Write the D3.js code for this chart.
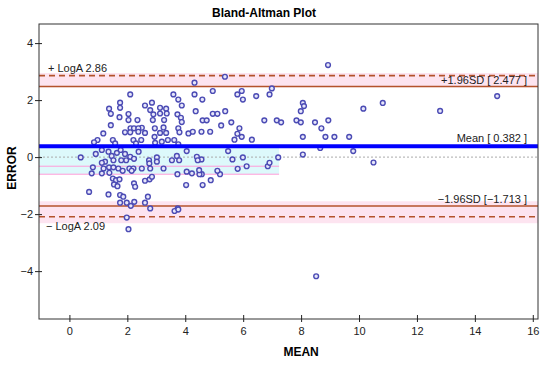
<!DOCTYPE html>
<html>
<head>
<meta charset="utf-8">
<title>Bland-Altman Plot</title>
<script src="https://cdn.jsdelivr.net/npm/d3@7"></script>
<style>
  html, body { margin: 0; padding: 0; background: #fff; }
  svg { display: block; font-family: "Liberation Sans", Arial, sans-serif; }
  .tick text { font-size: 11px; fill: #222; }
</style>
</head>
<body>
<script>
// mean of the two methods (x) and their difference (y)
var meanVals = [
  8.93, 5.37, 4.32, 4.95, 4.59, 5.8, 5.95, 5.99, 6.45, 6.91, 6.99, 8.06, 8.1, 7.99, 10.15, 10.82, 12.8, 14.77,
  4.95, 5.11, 5.38, 4.6, 4.74, 4.56, 4.86, 5.24, 5.59, 5.87, 5.8, 5.95, 5.7, 6.73, 7.16, 7.31, 7.84, 7.99,
  8.48, 8.94, 8.7, 8.06, 8.84, 9.15, 9.66, 8.66, 9.8, 10.5, 8.06, 5.48, 5.63, 5.99, 7.21, 6.3, 5.81, 6.12,
  6.85, 6.91, 4.56, 4.57, 5.2, 4.88, 4.6, 8.52, 5.11, 4.49,
  2.1, 3.59, 4.32, 1.75, 1.75, 1.37, 2.61, 2.85, 3.13, 3.34, 3.76, 3.88, 4.36, 1.43, 2.04, 1.73, 2.79, 2.9,
  3.13, 3.36, 2.88, 3.27, 3.73, 3.85, 3.88, 2.04, 2.35, 1.43, 2.5, 2.11, 2.23, 2.38, 1.92, 2.1, 2.38, 2.61,
  2.95, 3.25, 3.13, 3.34, 3.76, 3.8, 4.11, 4.26, 1.17, 0.97, 0.85, 1.5, 1.58, 2.21, 2.48, 2.94, 2.96, 3.19,
  3.4, 3.62, 2.3, 3.76, 1.12, 0.91, 0.39, 1.35, 1.46, 1.64, 1.77, 1.92, 2.1, 2.23, 2.39, 1.96, 1.79, 1.52,
  1.23, 1.12, 2.75, 3.02, 2.76, 3.02, 3.54, 3.71, 3.79, 4.05, 4.4, 4.43, 0.81, 1.18, 1.37, 1.52, 1.69, 2.07,
  2.21, 2.5, 2.79, 3.25, 0.77, 1.12, 1.38, 1.84, 2.15, 3.73, 4.05, 4.23, 4.48, 1.5, 1.61, 1.73, 1.54, 1.66,
  2.23, 2.27, 2.61, 2.77, 2.85, 4.03, 0.68, 1.35, 1.75, 1.86, 2.71, 2.24, 1.75, 1.98, 2.12, 2.61, 2.79, 3.74,
  1.98, 2.04, 3.63, 3.76
];
var diffVals = [
  3.23, 2.82, 2.61, 2.32, 2.02, 2.2, 2.32, 2.02, 2.14, 2.2, 2.41, 1.9, 1.79, 1.61, 1.7, 1.9, 1.62, 2.14,
  1.52, 1.52, 1.61, 1.29, 1.29, 0.89, 0.89, 1.11, 1.22, 1.01, 0.82, 0.71, 0.61, 1.29, 1.29, 1.22, 1.29, 1.22,
  1.22, 1.29, 1.01, 0.71, 0.71, 0.71, 0.71, 0.32, 0.21, -0.19, 0.09, 0.21, -0.08, -0.01, -0.01, 0.61, -0.41, -0.32,
  -0.32, -0.2, -0.08, -0.6, -0.6, -0.81, -0.98, -4.18, -0.48, -0.6,
  2.2, 2.2, 2.2, 1.91, 1.73, 1.7, 1.81, 1.91, 1.73, 1.7, 2.02, 1.81, 1.61, 1.52, 1.51, 1.4, 1.65, 1.5,
  1.53, 1.53, 1.3, 1.3, 1.5, 1.38, 1.23, 1.3, 1.3, 1.12, 1.03, 1.01, 1.01, 1.01, 0.87, 0.87, 0.89, 0.85,
  1.01, 1.04, 0.85, 0.85, 1.01, 0.87, 0.83, 0.89, 0.83, 0.6, 0.52, 0.6, 0.48, 0.6, 0.6, 0.71, 0.5, 0.54,
  0.6, 0.6, 0.48, 0.45, 0.25, 0.11, -0.01, 0.19, 0.04, 0.15, 0.25, 0.11, 0.01, -0.06, 0.19, -0.11, -0.11, -0.11,
  -0.16, -0.2, -0.11, -0.01, -0.22, -0.16, -0.11, 0.04, -0.11, 0.21, 0.01, -0.11, -0.36, -0.4, -0.36, -0.36, -0.4, -0.4,
  -0.4, -0.4, -0.4, -0.4, -0.57, -0.57, -0.55, -0.48, -0.48, -0.6, -0.51, -0.57, -0.46, -0.75, -0.81, -0.78, -0.96, -1.02,
  -0.92, -1.04, -0.83, -0.78, -0.69, -0.98, -1.22, -1.31, -1.33, -1.39, -1.39, -1.57, -1.6, -1.6, -1.71, -1.6, -1.8, -1.8,
  -2.12, -2.53, -1.89, -1.84
];

var xTicks = [0, 2, 4, 6, 8, 10, 12, 14, 16];
var yTicks = [-4, -2, 0, 2, 4];

var meanDiff = 0.382;
var sdLines = [2.477, -1.713];
var sdLabels = ["+1.96SD [ 2.477 ]", "\u22121.96SD [\u22121.713 ]"];
var logaLines = [2.86, -2.09];
var logaLabels = ["+ LogA 2.86", "\u2212 LogA 2.09"];

var W = 550, H = 365;
var pLeft = 39, pRight = 538, pTop = 24, pBottom = 319;

var svg = d3.select("body").append("svg")
  .attr("width", W)
  .attr("height", H);

var x = d3.scaleLinear().domain([-1.05, 16.18]).range([pLeft, pRight]);
var y = d3.scaleLinear().domain([-5.68, 4.67]).range([pBottom, pTop]);

// pink bands round the limits
svg.append("rect")
  .attr("x", pLeft).attr("width", pRight - pLeft)
  .attr("y", y(2.95)).attr("height", y(2.45) - y(2.95))
  .attr("fill", "#fde4f0");
svg.append("rect")
  .attr("x", pLeft).attr("width", pRight - pLeft)
  .attr("y", y(-1.55)).attr("height", y(-2.32) - y(-1.55))
  .attr("fill", "#fde4f0");

// faint cyan band round the mean (left part)
svg.append("rect")
  .attr("x", pLeft).attr("width", x(7.24) - pLeft)
  .attr("y", y(0.32)).attr("height", y(-0.6) - y(0.32))
  .attr("fill", "#ddf9fb");
[-0.32, -0.6].forEach(function(v) {
  svg.append("line")
    .attr("x1", pLeft).attr("x2", x(7.24))
    .attr("y1", y(v)).attr("y2", y(v))
    .attr("stroke", "#ff9bd8").attr("stroke-width", 1);
});
svg.append("line")
  .attr("x1", pLeft).attr("x2", x(7.24))
  .attr("y1", y(0.35)).attr("y2", y(0.35))
  .attr("stroke", "#ff9bd8").attr("stroke-width", 1.2)
  .attr("stroke-dasharray", "6,4");

// zero line
svg.append("line")
  .attr("x1", pLeft).attr("x2", pRight)
  .attr("y1", y(0)).attr("y2", y(0))
  .attr("stroke", "#aaa").attr("stroke-width", 1)
  .attr("stroke-dasharray", "2,2");

// limits of agreement
svg.selectAll(".sd").data(sdLines).enter().append("line")
  .attr("class", "sd")
  .attr("x1", pLeft).attr("x2", pRight)
  .attr("y1", function(d) { return y(d); })
  .attr("y2", function(d) { return y(d); })
  .attr("stroke", "#b4532c").attr("stroke-width", 1.6);

svg.selectAll(".loga").data(logaLines).enter().append("line")
  .attr("class", "loga")
  .attr("x1", pLeft).attr("x2", pRight)
  .attr("y1", function(d) { return y(d); })
  .attr("y2", function(d) { return y(d); })
  .attr("stroke", "#b4532c").attr("stroke-width", 1.6)
  .attr("stroke-dasharray", "6,4");

// points
var pts = meanVals.map(function(m, i) { return [m, diffVals[i]]; });
svg.selectAll("circle").data(pts).enter().append("circle")
  .attr("cx", function(d) { return x(d[0]); })
  .attr("cy", function(d) { return y(d[1]); })
  .attr("r", 2.4)
  .attr("fill", "#e6e6fa")
  .attr("stroke", "#4b4bb4")
  .attr("stroke-width", 1.4);

// mean line
svg.append("line")
  .attr("x1", pLeft).attr("x2", pRight)
  .attr("y1", y(meanDiff)).attr("y2", y(meanDiff))
  .attr("stroke", "#0000ff").attr("stroke-width", 4);

// labels
svg.append("text")
  .attr("x", 527).attr("y", y(meanDiff) - 4)
  .attr("text-anchor", "end").attr("font-size", 11).attr("fill", "#222")
  .text("Mean [ " + meanDiff + " ]");

svg.selectAll(".sdlab").data(sdLines).enter().append("text")
  .attr("class", "sdlab")
  .attr("x", 527)
  .attr("y", function(d) { return y(d) - 3; })
  .attr("text-anchor", "end").attr("font-size", 11).attr("fill", "#222")
  .text(function(d, i) { return sdLabels[i]; });

svg.selectAll(".logalab").data(logaLines).enter().append("text")
  .attr("class", "logalab")
  .attr("x", function(d, i) { return i == 0 ? 48 : 46; })
  .attr("y", function(d, i) { return i == 0 ? y(d) - 4 : y(d) + 13; })
  .attr("font-size", 11).attr("fill", "#222")
  .text(function(d, i) { return logaLabels[i]; });

// frame
svg.append("rect")
  .attr("x", pLeft).attr("y", pTop)
  .attr("width", pRight - pLeft).attr("height", pBottom - pTop)
  .attr("fill", "none").attr("stroke", "#333").attr("stroke-width", 1);

// axes
var xAxis = d3.axisBottom(x).tickValues(xTicks).tickSize(7).tickSizeOuter(0).tickPadding(5);
var gx = svg.append("g").attr("transform", "translate(0," + (pBottom - 4) + ")").call(xAxis);
gx.select(".domain").remove();
gx.selectAll(".tick line").attr("stroke", "#222");

var yAxis = d3.axisLeft(y).tickValues(yTicks).tickSize(7).tickSizeOuter(0).tickPadding(2)
  .tickFormat(function(d) { return d < 0 ? "\u2212" + Math.abs(d) : d; });
var gy = svg.append("g").attr("transform", "translate(" + (pLeft + 3) + ",0)").call(yAxis);
gy.select(".domain").remove();
gy.selectAll(".tick line").attr("stroke", "#222");

// titles
svg.append("text")
  .attr("x", 264).attr("y", 17)
  .attr("text-anchor", "middle").attr("font-size", 12).attr("font-weight", "bold")
  .text("Bland-Altman Plot");

svg.append("text")
  .attr("x", x(8)).attr("y", 356)
  .attr("text-anchor", "middle").attr("font-size", 12).attr("font-weight", "bold")
  .text("MEAN");

svg.append("text")
  .attr("transform", "translate(16," + 168 + ") rotate(-90)")
  .attr("text-anchor", "middle").attr("font-size", 12).attr("font-weight", "bold")
  .text("ERROR");
</script>
</body>
</html>
